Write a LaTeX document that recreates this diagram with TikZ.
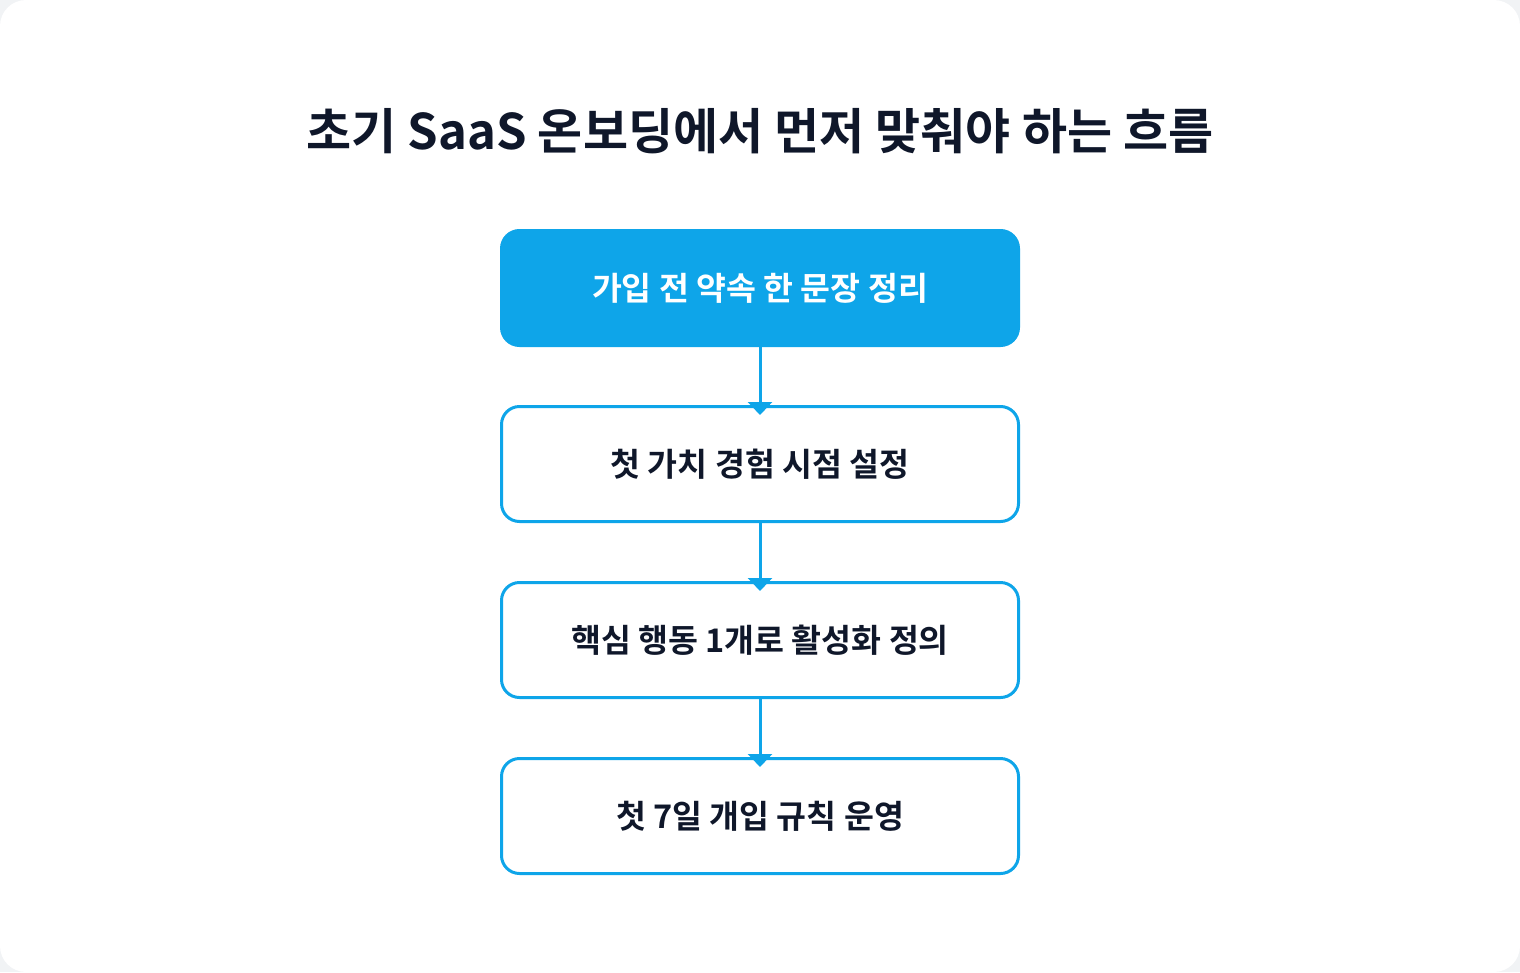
\documentclass[tikz,border=0pt]{standalone}
\usepackage{fontspec}
\newfontfamily\krb{Noto Sans CJK KR Bold}
\usetikzlibrary{arrows.meta}
\definecolor{sky}{HTML}{0EA5E9}
\definecolor{ink}{HTML}{0F172A}
\definecolor{bg}{HTML}{F1F3F5}
\begin{document}
\begin{tikzpicture}[x=1pt,y=-1pt,
  stepbox/.style={draw=sky,line width=3pt,rounded corners=18pt,minimum width=517pt,minimum height=115pt,fill=white,text=ink,font=\krb\fontsize{32.5}{36}\selectfont,inner sep=0pt},
  firstbox/.style={stepbox,fill=sky,text=white},
  flow/.style={draw=sky,line width=3pt,-{Triangle[width=24pt,length=13pt]}}]
\useasboundingbox (0,0) rectangle (1520,972);
\fill[bg] (0,0) rectangle (1520,972);
\fill[white,rounded corners=26pt] (0,0) rectangle (1520,972);
\node[text=ink,font=\krb\fontsize{49}{54}\selectfont] (title) at (760,131) {초기 SaaS 온보딩에서 먼저 맞춰야 하는 흐름};
\node[firstbox] (s1) at (760,288) {가입 전 약속 한 문장 정리};
\node[stepbox] (s2) at (760,464) {첫 가치 경험 시점 설정};
\node[stepbox] (s3) at (760,640) {핵심 행동 1개로 활성화 정의};
\node[stepbox] (s4) at (760,816) {첫 7일 개입 규칙 운영};
\draw[flow] (s1.south) -- ([yshift=-10pt]s2.north);
\draw[flow] (s2.south) -- ([yshift=-10pt]s3.north);
\draw[flow] (s3.south) -- ([yshift=-10pt]s4.north);
\end{tikzpicture}
\end{document}
